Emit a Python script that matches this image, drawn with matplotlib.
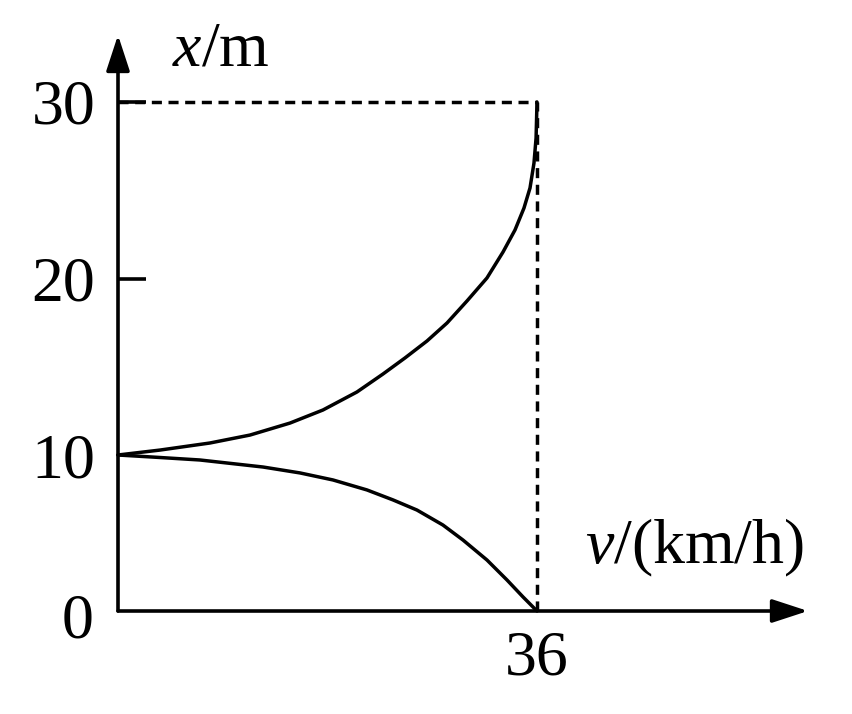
import numpy as np
import matplotlib
matplotlib.use("Agg")
import matplotlib.pyplot as plt

# fonts - Times-like serif, italic for the symbols
plt.rcParams['font.family'] = ['Liberation Serif', 'DejaVu Serif']
plt.rcParams['mathtext.fontset'] = 'custom'
plt.rcParams['mathtext.rm'] = 'Liberation Serif'
plt.rcParams['mathtext.it'] = 'Liberation Serif:italic'

# data: v in km/h, x in m
upper_v = [0, 3.61, 7.90, 11.34, 14.78, 17.61, 20.53, 22.77, 24.66, 26.55, 28.27,
           29.99, 31.70, 33.08, 34.11, 34.88, 35.40, 35.74, 35.92, 36.0]
upper_x = [10, 10.28, 10.68, 11.13, 11.81, 12.55, 13.57, 14.59, 15.50, 16.46, 17.48,
           18.73, 20.03, 21.50, 22.75, 23.99, 25.13, 26.54, 27.96, 30]

lower_v = [0, 3.61, 7.04, 12.46, 15.64, 18.47, 21.39, 23.63, 25.69, 27.92, 29.64,
           31.70, 33.42, 34.80, 36.0]
lower_x = [10, 9.84, 9.68, 9.23, 8.85, 8.40, 7.76, 7.12, 6.47, 5.51, 4.55,
           3.27, 1.99, 0.90, 0]

v_max = 36
x_max = 30
y_ticks = [20, 30]
y_labels = ['20', '30']

# the drawing is not evenly spaced below 10 m, so use a piecewise scale
def fwd(y):
    y = np.asarray(y, dtype=float)
    return np.where(y <= 10, y * 15.6, 156 + (y - 10) * 17.65)

def inv(t):
    t = np.asarray(t, dtype=float)
    return np.where(t <= 156, t / 15.6, 10 + (t - 156) / 17.65)

fig = plt.figure(figsize=(8.52, 7.14), dpi=100)
ax = fig.add_axes([0, 0, 1, 1])
ax.set_yscale('function', functions=(fwd, inv))
sx = (537 - 118) / 36
ax.set_xlim(-118 / sx, (852 - 118) / sx)
ax.set_ylim(float(inv(-103)), float(inv(611)))

lw = 2.5
ax.plot(upper_v, upper_x, color='black', lw=lw, solid_joinstyle='round', solid_capstyle='round')
ax.plot(lower_v, lower_x, color='black', lw=lw, solid_joinstyle='round', solid_capstyle='round')

# dashed guides
ax.plot([0, v_max], [x_max, x_max], color='black', lw=lw, dashes=(2.9, 1.9))
ax.plot([v_max, v_max], [0, x_max], color='black', lw=lw, dashes=(2.9, 1.9))

# axes with arrows
for s in ax.spines.values():
    s.set_visible(False)
ax.spines['left'].set_position(('data', 0))
ax.spines['bottom'].set_position(('data', 0))
arrow = dict(arrowstyle='-|>,head_length=1.1,head_width=0.36', color='black',
             lw=2.6, mutation_scale=20, shrinkA=0, shrinkB=0)
ax.annotate('', xy=(0, float(inv(576))), xytext=(0, 0), arrowprops=arrow)
ax.annotate('', xy=((808 - 118) / sx, 0), xytext=(0, 0), arrowprops=arrow)

# ticks
fs = 46
ax.set_yticks(y_ticks, labels=y_labels)
ax.set_yticks([10], labels=['10'], minor=True)
ax.tick_params(axis='y', which='major', direction='in', length=20, width=2.6,
               pad=16.5, labelsize=fs)
ax.tick_params(axis='y', which='minor', length=0, pad=16.5, labelsize=fs)
ax.set_xticks([v_max], labels=['36'])
ax.tick_params(axis='x', which='major', length=0, pad=14, labelsize=fs)
ax.tick_params(axis='x', which='minor', length=0)
ax.annotate('0', xy=(0, 0), xytext=(-18, -8.5), textcoords='offset points',
            ha='right', va='center', fontsize=fs)

# axis labels
fig.text(172 / 852, 1 - 65 / 714, r'$x$/m', fontsize=fs, va='baseline', ha='left')
fig.text(585 / 852, 1 - 563 / 714, r'$v$/(km/h)', fontsize=fs, va='baseline', ha='left')

fig.savefig('out.png', dpi=100)
